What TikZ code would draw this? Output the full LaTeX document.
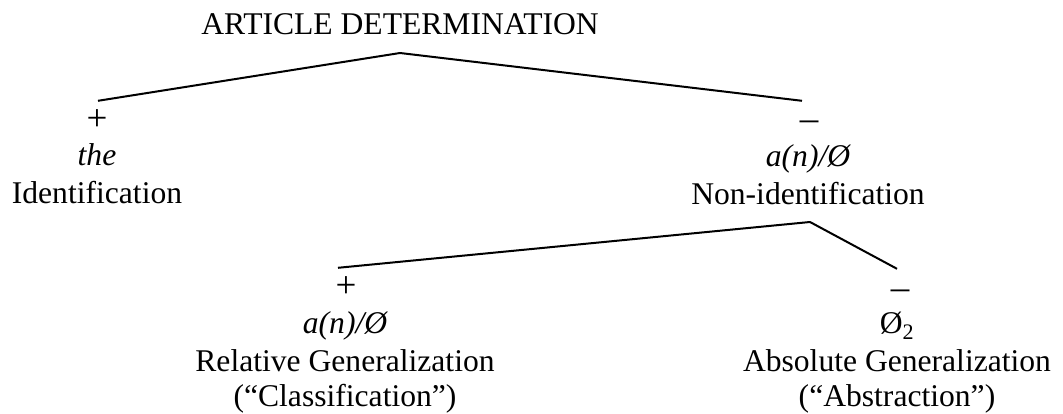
\documentclass[tikz,border=0pt]{standalone}
\usepackage{fontspec}
\setmainfont{Liberation Serif}
\begin{document}
\begin{tikzpicture}[x=1pt,y=-1pt,
  lbl/.style={anchor=base,inner sep=0pt,font=\fontsize{31.6}{38}\selectfont},
  sign/.style={lbl,font=\fontsize{37}{44}\selectfont,text height=30pt,text depth=0pt},
  branch/.style={line width=2pt,line join=round}]
\useasboundingbox (0,0) rectangle (1063,414);
% top
\node[lbl] (title) at (400,35) {ARTICLE DETERMINATION};
% left branch
\node[sign] (sA) at (97,131) {+};
\node[lbl] (theA) at (97,166) {\itshape the};
\node[lbl] (idA) at (97,204) {Identification};
% right branch
\node[sign] (sB) at (809,131) {–};
\node[lbl] (artB) at (808,167) {\itshape a(n)/Ø};
\node[lbl] (nonid) at (808,205) {Non-identification};
% second level left
\node[sign] (sC) at (346,298) {+};
\node[lbl] (artC) at (345,333) {\itshape a(n)/Ø};
\node[lbl] (relC) at (345,371) {Relative Generalization};
\node[lbl] (clsC) at (345,406) {(“Classification”)};
% second level right
\node[sign] (sD) at (900,299) {–};
\node[lbl] (zeroD) at (897,333) {Ø\textsubscript{2}};
\node[lbl] (absD) at (897,371) {Absolute Generalization};
\node[lbl] (abstrD) at (897,406) {(“Abstraction”)};
% connectors
\draw[branch] ([xshift=1pt]sA.north) -- ([yshift=-18pt]title.base) -- ([xshift=-7pt]sB.north);
\draw[branch] ([xshift=-8pt]sC.north) -- ([xshift=2pt,yshift=-17pt]nonid.base) -- ([xshift=-3pt]sD.north);
\end{tikzpicture}
\end{document}
